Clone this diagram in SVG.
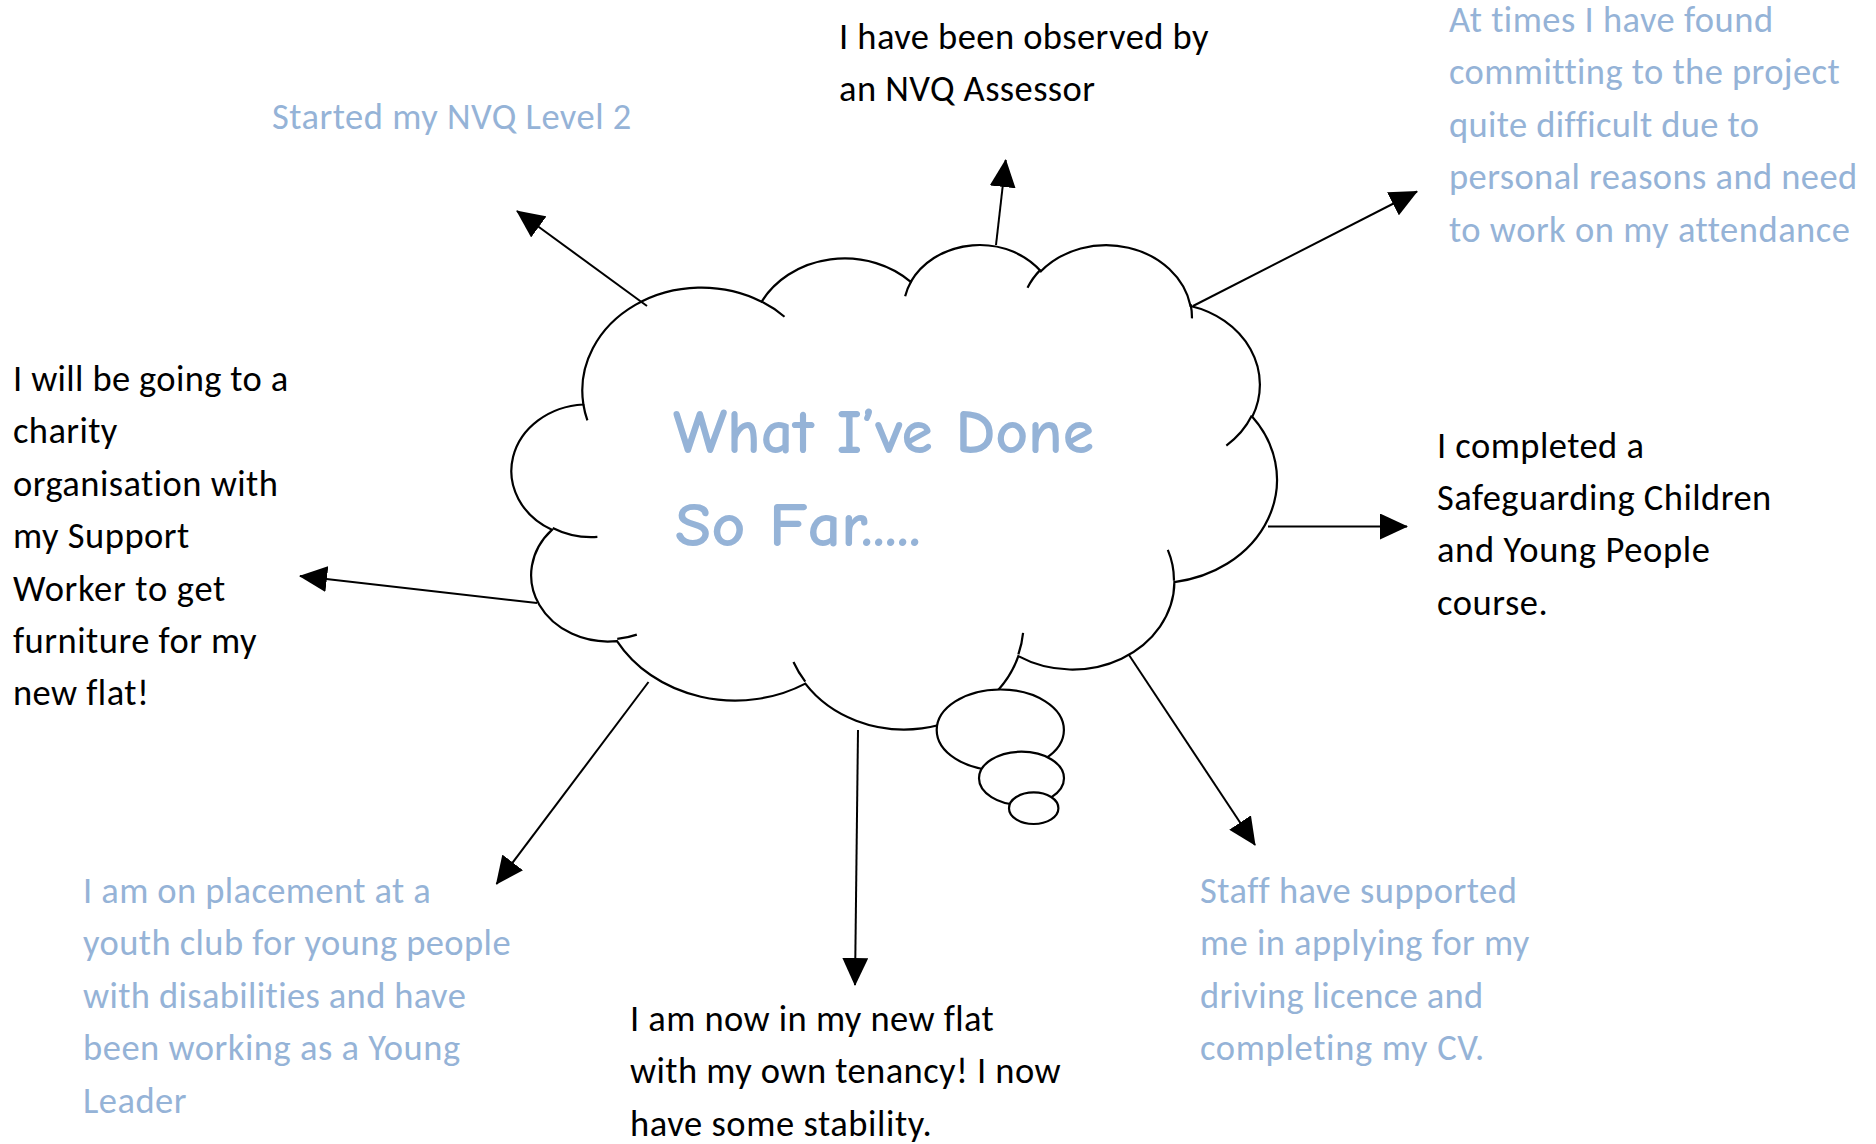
<svg xmlns="http://www.w3.org/2000/svg" width="1876" height="1144" viewBox="0 0 1876 1144">
<defs>
<style>
.t{font-family:Carlito,Lato,"Liberation Sans",sans-serif;font-size:36.5px;font-variant-ligatures:none}
.k{fill:#000000}
.b{fill:#95B3D7}
.ttl{font-family:"Comic Sans MS","Comic Neue",Lato,sans-serif;font-size:63px;fill:#95B3D7;font-weight:600}
.ln{stroke:#000000;stroke-width:2;fill:none;marker-end:url(#ah)}
.cl{fill:#ffffff;stroke:#000000;stroke-width:2.2;vector-effect:non-scaling-stroke}
.cl2{fill:none;stroke:#000000;stroke-width:2.2;vector-effect:non-scaling-stroke}
.bb{fill:#ffffff;stroke:#000000;stroke-width:2.2}
</style>
<marker id="ah" markerUnits="userSpaceOnUse" viewBox="0 0 28 26" markerWidth="28" markerHeight="26" refX="27" refY="13" orient="auto"><path d="M0,0 L28,13 L0,26 z" fill="#000000"/></marker>
</defs>
<rect width="1876" height="1144" fill="#ffffff"/>

<g id="cloud">
<g transform="translate(514.6,243.4) scale(0.017639,0.01121)">
<path class="cl" d="M3900,14370 A6753,9190 0 0 1 14005.6,5202.4 A5333,7267 0 0 1 22458,3435.5 A4365,5945 0 0 1 29835.8,2487.4 A4857,6595 0 0 1 38320.5,5583.4 A5333,7273 0 0 1 41820.8,15467.4 A6775,9220 0 0 1 37406.2,30209.9 A5785,7867 0 0 1 28557.7,36819.9 A6752,9215 0 0 1 16482.2,39271.1 A7720,10543 0 0 1 5806.1,35474.1 A4360,5918 0 0 1 2116.3,25550.1 A4345,5945 0 0 1 3900,14370 Z"/>
<path class="cl2" d="M4693,26177 A4345,5945 0 0 1 2160.5,25380.4 M6928,34899 A4360,5918 0 0 1 5819.5,35280.5 M16478,39090 A6752,9215 0 0 1 15809.8,37348.6 M28827,34751 A6752,9215 0 0 1 28560.4,36659.8 M37032,27336 A5785,7867 0 0 1 37380.7,30089.9 M41798,15354 A5333,7273 0 0 1 40350.2,18029.7 M38324,5426 A4857,6595 0 0 1 38400.4,6689.6 M29078,3952 A4857,6595 0 0 1 29820.1,2339.6 M22141,4720 A4365,5945 0 0 1 22500.5,3329.3 M14000,5192 A6753,9190 0 0 1 15301.4,6542.7 M4127,15789 A6753,9190 0 0 1 3900.2,14370.1"/>
</g>
<ellipse class="bb" cx="1000.3" cy="730" rx="63.6" ry="40.5"/>
<ellipse class="bb" cx="1021.5" cy="778.3" rx="42.5" ry="26.6"/>
<ellipse class="bb" cx="1033.7" cy="808.2" rx="24.7" ry="15.8"/>
<text class="ttl" x="673" y="453" textLength="421" lengthAdjust="spacingAndGlyphs">What I’ve Done</text>
<text class="ttl" x="675" y="546" textLength="246" lengthAdjust="spacingAndGlyphs">So Far.....</text>
</g>

<g id="connectors">
<line class="ln" x1="647" y1="306" x2="517" y2="211"/>
<line class="ln" x1="996" y1="245" x2="1005.7" y2="160"/>
<line class="ln" x1="1193" y1="306" x2="1417" y2="191.5"/>
<line class="ln" x1="1268" y1="526.5" x2="1407" y2="526.5"/>
<line class="ln" x1="537" y1="603" x2="300" y2="576"/>
<line class="ln" x1="648.5" y1="682" x2="496.5" y2="884"/>
<line class="ln" x1="858" y1="730" x2="855" y2="985"/>
<line class="ln" x1="1129" y1="655" x2="1255" y2="845"/>
</g>

<g id="node-nvq-level2">
<text class="t b" x="272" y="129" textLength="359.3">Started my NVQ Level 2</text>
</g>

<g id="node-observed">
<text class="t k" x="839" y="49" textLength="369.5">I have been observed by</text>
<text class="t k" x="839" y="101.4" textLength="256">an NVQ Assessor</text>
</g>

<g id="node-committing">
<text class="t b" x="1449" y="32" textLength="324.1">At times I have found</text>
<text class="t b" x="1449" y="84.4" textLength="390.7">committing to the project</text>
<text class="t b" x="1449" y="136.8" textLength="310">quite difficult due to</text>
<text class="t b" x="1449" y="189.2" textLength="408.2">personal reasons and need</text>
<text class="t b" x="1449" y="241.6" textLength="400.9">to work on my attendance</text>
</g>

<g id="node-safeguarding">
<text class="t k" x="1437" y="457.5" textLength="206.9">I completed a</text>
<text class="t k" x="1437" y="509.9" textLength="334.3">Safeguarding Children</text>
<text class="t k" x="1437" y="562.3" textLength="272.9">and Young People</text>
<text class="t k" x="1437" y="614.7" textLength="110.7">course.</text>
</g>

<g id="node-charity">
<text class="t k" x="13" y="391" textLength="275.2">I will be going to a</text>
<text class="t k" x="13" y="443.4" textLength="104.3">charity</text>
<text class="t k" x="13" y="495.8" textLength="264.9">organisation with</text>
<text class="t k" x="13" y="548.2" textLength="176.3">my Support</text>
<text class="t k" x="13" y="600.6" textLength="212.3">Worker to get</text>
<text class="t k" x="13" y="653" textLength="243.6">furniture for my</text>
<text class="t k" x="13" y="705.4" textLength="135.8">new flat!</text>
</g>

<g id="node-placement">
<text class="t b" x="83" y="903" textLength="347.8">I am on placement at a</text>
<text class="t b" x="83" y="955.4" textLength="427.6">youth club for young people</text>
<text class="t b" x="83" y="1007.8" textLength="382.8">with disabilities and have</text>
<text class="t b" x="83" y="1060.2" textLength="377.2">been working as a Young</text>
<text class="t b" x="83" y="1112.6" textLength="103.4">Leader</text>
</g>

<g id="node-flat">
<text class="t k" x="630" y="1031" textLength="363.8">I am now in my new flat</text>
<text class="t k" x="630" y="1083.4" textLength="430.6">with my own tenancy! I now</text>
<text class="t k" x="630" y="1135.8" textLength="301.6">have some stability.</text>
</g>

<g id="node-staff">
<text class="t b" x="1200" y="903" textLength="316.9">Staff have supported</text>
<text class="t b" x="1200" y="955.4" textLength="329.4">me in applying for my</text>
<text class="t b" x="1200" y="1007.8" textLength="283.2">driving licence and</text>
<text class="t b" x="1200" y="1060.2" textLength="284.3">completing my CV.</text>
</g>
</svg>
